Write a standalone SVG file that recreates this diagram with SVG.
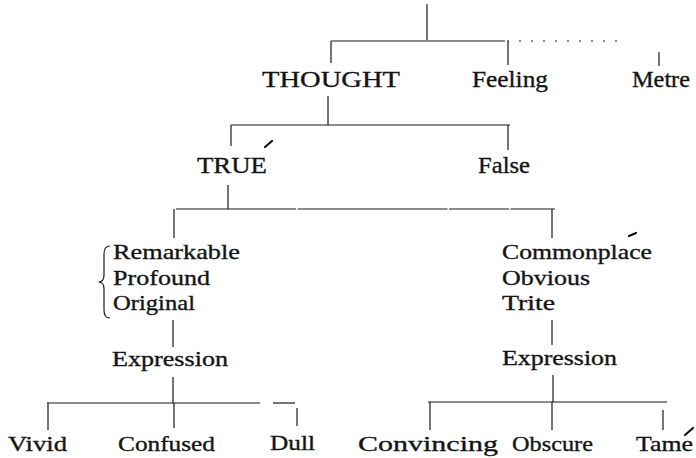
<svg xmlns="http://www.w3.org/2000/svg" width="696" height="458" viewBox="0 0 696 458">
<style>
.t{font-family:"Liberation Serif","Times New Roman",serif;fill:#141414;stroke:#141414;stroke-width:0.35;}
.big{font-size:24px;}
.med{font-size:22px;}
.c line,.c path{stroke:#1a1a1a;stroke-width:1.2;fill:none;}
.acc{stroke:#111;stroke-width:2.2;stroke-linecap:round;}
</style>
<rect width="696" height="458" fill="#fff"/>
<g id="connectors" class="c">
<line x1="427" y1="4" x2="427" y2="40"/>
<line x1="331" y1="41" x2="505" y2="41"/>
<line x1="507" y1="41" x2="620" y2="41" stroke-dasharray="2 10"/>
<line x1="331" y1="41" x2="331" y2="63"/>
<line x1="508" y1="41" x2="508" y2="65"/>
<line x1="659" y1="52" x2="659" y2="66"/>
<line x1="328" y1="96" x2="328" y2="125"/>
<line x1="231" y1="125" x2="510" y2="125"/>
<line x1="231" y1="125" x2="231" y2="146"/>
<line x1="508" y1="125" x2="508" y2="150"/>
<line x1="228" y1="185" x2="228" y2="209"/>
<line x1="176" y1="209" x2="555" y2="209" stroke-dasharray="120 1.5 150 1.5 60 1.5 100"/>
<line x1="174" y1="209" x2="174" y2="238"/>
<line x1="552" y1="209" x2="552" y2="238"/>
<path d="M110,246 Q104,246 104,254 L104,275 Q104,282 98.5,282 Q104,282 104,289 L104,310 Q104,318 110,318"/>
<line x1="173" y1="320" x2="173" y2="347"/>
<line x1="552" y1="320" x2="552" y2="345"/>
<line x1="173" y1="377" x2="173" y2="403"/>
<line x1="553" y1="375" x2="553" y2="402"/>
<line x1="47" y1="403" x2="260" y2="403"/>
<line x1="273" y1="403" x2="295" y2="403"/>
<line x1="48" y1="403" x2="48" y2="430"/>
<line x1="174" y1="403" x2="174" y2="428"/>
<line x1="297" y1="408" x2="297" y2="426"/>
<line x1="428" y1="402" x2="667" y2="402"/>
<line x1="430" y1="402" x2="430" y2="430"/>
<line x1="552" y1="402" x2="552" y2="430"/>
<line x1="663" y1="410" x2="663" y2="430"/>
</g>
<g id="thought"><text class="t big" x="262" y="87" textLength="138" lengthAdjust="spacingAndGlyphs">THOUGHT</text></g>
<g id="feeling"><text class="t big" x="472" y="87" textLength="76" lengthAdjust="spacingAndGlyphs">Feeling</text></g>
<g id="metre"><text class="t big" x="632" y="87" textLength="58" lengthAdjust="spacingAndGlyphs">Metre</text></g>
<g id="true"><text class="t big" x="197" y="173" textLength="70" lengthAdjust="spacingAndGlyphs">TRUE</text><line class="acc" x1="265" y1="147" x2="272" y2="141"/></g>
<g id="false"><text class="t big" x="478" y="173" textLength="52" lengthAdjust="spacingAndGlyphs">False</text></g>
<g id="remarkable">
<text class="t med" x="113" y="259" textLength="127" lengthAdjust="spacingAndGlyphs">Remarkable</text>
<text class="t med" x="113" y="285" textLength="97" lengthAdjust="spacingAndGlyphs">Profound</text>
<text class="t med" x="113" y="310" textLength="82" lengthAdjust="spacingAndGlyphs">Original</text>
</g>
<g id="commonplace">
<text class="t med" x="502" y="259" textLength="150" lengthAdjust="spacingAndGlyphs">Commonplace</text>
<line class="acc" x1="629" y1="236" x2="636" y2="233"/>
<text class="t med" x="502" y="285" textLength="88" lengthAdjust="spacingAndGlyphs">Obvious</text>
<text class="t med" x="502" y="310" textLength="53" lengthAdjust="spacingAndGlyphs">Trite</text>
</g>
<g id="expression-left"><text class="t med" x="112" y="366" textLength="116" lengthAdjust="spacingAndGlyphs">Expression</text></g>
<g id="expression-right"><text class="t med" x="502" y="365" textLength="115" lengthAdjust="spacingAndGlyphs">Expression</text></g>
<g id="vivid"><text class="t med" x="8" y="451" textLength="59" lengthAdjust="spacingAndGlyphs">Vivid</text></g>
<g id="confused"><text class="t med" x="118" y="451" textLength="97" lengthAdjust="spacingAndGlyphs">Confused</text></g>
<g id="dull"><text class="t med" x="270" y="450" textLength="45" lengthAdjust="spacingAndGlyphs">Dull</text></g>
<g id="convincing"><text class="t med" x="358" y="451" textLength="140" lengthAdjust="spacingAndGlyphs">Convincing</text></g>
<g id="obscure"><text class="t med" x="512" y="451" textLength="81" lengthAdjust="spacingAndGlyphs">Obscure</text></g>
<g id="tame"><text class="t med" x="636" y="451" textLength="57" lengthAdjust="spacingAndGlyphs">Tame</text><line class="acc" x1="685" y1="435" x2="693" y2="428"/></g>
</svg>
